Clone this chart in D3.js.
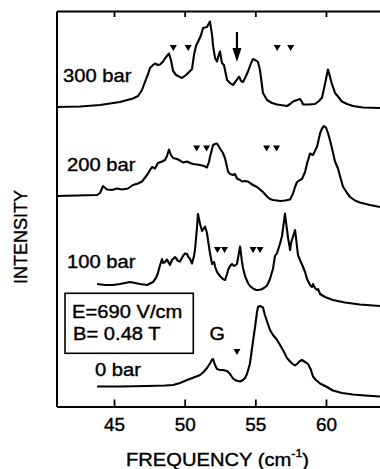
<!DOCTYPE html>
<html>
<head>
<meta charset="utf-8">
<script src="https://cdn.jsdelivr.net/npm/d3@7"></script>
<style>
	body { margin: 0; background: #fff; }
	svg { display: block; }
	text { font-family: "Liberation Sans", Arial, Helvetica, sans-serif; fill: #000; stroke: #000; stroke-width: 0.4px; }
</style>
</head>
<body>
<svg id="chart" width="380" height="469"></svg>
<script>
// spectra: [frequency (cm-1), intensity (arb. units, above own baseline)]
const bar300 = [
	[40.93, 1], [42.6, 1.5], [44.01, 3], [45.42, 6], [46.34, 9.5], [46.7, 12], [46.98, 18], [47.19, 26],
	[47.41, 34], [47.55, 40], [47.76, 43], [47.9, 44.5], [48.11, 43], [48.26, 43.5], [48.47, 46.5],
	[48.68, 51], [48.89, 54.5], [49.03, 48], [49.18, 37], [49.39, 33], [49.81, 30], [50.1, 33],
	[50.38, 37], [50.52, 39], [50.66, 53], [50.8, 62], [50.94, 66], [51.16, 73], [51.3, 80], [51.58, 81],
	[51.79, 86.5], [51.94, 73], [52.01, 62], [52.15, 50], [52.29, 46.5], [52.43, 54], [52.5, 56.5],
	[52.64, 45], [52.78, 43], [53.0, 28], [53.21, 25], [53.42, 23], [53.63, 27], [53.85, 31.5],
	[53.99, 27], [54.13, 26], [54.34, 32], [54.48, 36.5], [54.7, 45], [54.84, 49], [55.05, 47.5],
	[55.19, 46], [55.33, 38], [55.47, 23], [55.54, 15], [55.83, 8], [56.18, 5], [56.54, 3.5], [57.24, 2],
	[57.46, 4], [57.67, 6.5], [57.95, 8], [58.16, 9], [58.3, 6], [58.38, 3.5], [58.8, 3.5], [59.22, 4],
	[59.51, 7], [59.72, 10.5], [59.93, 24], [60.14, 38.5], [60.29, 31], [60.42, 24], [60.57, 18],
	[60.64, 15], [60.85, 11.5], [61.13, 6.5], [61.49, 4], [61.91, 2], [62.62, 0.5], [63.82, 0]
];
const bar200 = [
	[40.93, 11], [42.38, 11.5], [43.8, 12], [44.01, 14], [44.22, 21], [44.5, 17.5], [44.86, 17],
	[45.21, 18.5], [45.57, 17.5], [45.99, 18.5], [46.34, 22], [46.7, 23.5], [46.98, 25.5], [47.34, 32],
	[47.55, 37], [47.69, 40], [47.9, 38.5], [48.11, 44], [48.4, 45.5], [48.61, 47], [48.75, 51],
	[48.89, 57.5], [49.03, 52], [49.18, 49], [49.46, 48], [49.67, 46.5], [49.88, 44.5], [50.17, 45.5],
	[50.38, 44], [50.59, 43], [50.87, 42.5], [51.09, 42], [51.37, 41], [51.58, 39.5], [51.72, 45],
	[51.79, 50], [52.01, 62], [52.15, 63], [52.29, 63.5], [52.5, 58.5], [52.71, 54], [52.86, 48.5],
	[53.07, 35.5], [53.21, 33], [53.42, 32], [53.56, 33], [53.7, 28.5], [53.92, 27], [54.06, 25.5],
	[54.27, 26], [54.48, 25.5], [54.62, 24], [54.84, 22], [55.12, 20], [55.33, 17.5], [55.54, 15],
	[55.83, 10.5], [56.04, 8], [56.25, 7], [56.54, 6.5], [56.75, 6], [57.1, 6.5], [57.46, 7.5],
	[57.67, 13.5], [57.81, 20], [57.95, 25], [58.16, 27], [58.3, 28], [58.52, 35], [58.66, 43.5],
	[58.87, 53.5], [59.08, 52], [59.22, 56], [59.37, 60.5], [59.58, 73.5], [59.72, 78.5], [59.86, 81],
	[60.0, 79.5], [60.14, 74], [60.28, 67], [60.42, 59], [60.64, 45.5], [60.85, 38.5], [60.99, 31],
	[61.2, 20.5], [61.49, 14], [61.7, 10], [62.05, 6.5], [62.4, 4.5], [63.11, 2], [63.82, 0]
];
const bar100 = [
	[43.8, 22], [44.36, 21], [44.93, 21], [45.42, 22], [46.13, 24], [46.84, 22], [47.34, 21], [47.76, 24],
	[47.97, 28], [48.11, 33], [48.26, 41], [48.4, 47], [48.47, 43], [48.61, 44], [48.75, 46.5],
	[48.96, 41], [49.1, 46], [49.32, 49], [49.53, 45], [49.67, 44.5], [49.88, 50], [50.02, 52.5],
	[50.17, 52], [50.24, 49.5], [50.38, 47], [50.52, 42.5], [50.66, 50], [50.73, 56], [50.87, 78],
	[50.94, 92], [51.09, 82], [51.23, 75], [51.37, 78], [51.44, 79.5], [51.58, 73], [51.65, 66],
	[51.79, 53], [51.94, 42], [52.08, 44], [52.15, 39.5], [52.29, 34], [52.5, 30], [52.71, 27],
	[52.86, 26], [53.0, 32], [53.07, 36], [53.21, 40], [53.35, 42], [53.49, 40], [53.56, 40.5],
	[53.7, 42], [53.92, 59.5], [54.06, 44], [54.13, 38], [54.27, 30], [54.48, 23], [54.62, 20],
	[54.84, 17.5], [55.05, 16], [55.19, 16], [55.4, 16.5], [55.61, 18], [55.83, 20.5], [56.04, 27],
	[56.18, 34], [56.25, 37], [56.39, 50], [56.54, 53], [56.75, 62.5], [56.89, 70], [57.1, 92.5],
	[57.17, 84], [57.31, 69], [57.46, 56], [57.53, 63], [57.67, 69.5], [57.81, 76], [57.88, 68],
	[58.02, 51], [58.16, 46], [58.38, 39], [58.52, 34], [58.66, 27], [58.87, 21], [59.01, 19],
	[59.08, 22], [59.22, 18], [59.37, 16], [59.44, 17], [59.58, 12], [59.93, 9], [60.49, 6],
	[61.34, 3.5], [62.4, 1.5], [63.82, 0]
];
const bar0 = [
	[43.8, 10.5], [45.42, 10.5], [47.34, 11], [48.61, 11.5], [49.18, 12], [49.67, 14], [50.17, 17],
	[50.73, 20], [51.09, 22], [51.37, 25.5], [51.58, 29], [51.79, 33.5], [51.94, 37.5], [52.01, 38],
	[52.15, 32], [52.29, 28], [52.5, 27], [52.71, 27], [53.0, 26], [53.21, 23], [53.42, 18.5],
	[53.63, 16.5], [53.92, 15.5], [54.13, 17], [54.27, 19], [54.41, 23], [54.62, 33.5], [54.77, 49],
	[54.98, 70], [55.12, 85], [55.19, 90], [55.33, 91], [55.54, 89.5], [55.68, 82], [55.83, 75.5],
	[56.04, 67], [56.25, 62], [56.54, 57], [56.75, 52], [57.03, 45], [57.24, 39], [57.46, 35.5],
	[57.6, 33.5], [57.81, 31.5], [57.95, 33], [58.16, 36], [58.3, 37], [58.52, 35], [58.73, 33],
	[58.94, 27], [59.08, 20.5], [59.29, 17], [59.58, 13.5], [60.07, 10], [60.49, 6.5], [61.13, 4],
	[61.91, 2.5], [62.76, 1.5], [63.82, 0.5]
];

const traceNames = ["300 bar", "200 bar", "100 bar", "0 bar"];
const traceOffsets = [298.5, 199.5, 100.5, 9.5];
const freqTicks = [45, 50, 55, 60];

// little triangles above the traces
const markerFreqs = [[49.2, 50.25, 56.55, 57.5], [50.85, 51.55, 55.8, 56.5], [52.32, 52.82, 54.84, 55.33], [53.7]];
const markerLevels = [60, 58.5, 56, 45];
const arrowFreq = 53.7;
const arrowLevels = [76, 46];

const fieldText = ["E=690 V/cm", "B= 0.48 T"];

const svg = d3.select("#chart");
const plotLeft = 56.5, plotTop = 11, plotBottom = 406.5;
const fontH = 18;

const x = d3.scaleLinear().domain([40.93, 64.0]).range([plotLeft, 382.5]);
const y = d3.scaleLinear().domain([0, 395.5]).range([plotBottom, plotTop]);

// frame
svg.append("g")
	.attr("transform", "translate(0," + plotBottom + ")")
	.call(d3.axisBottom(x).tickValues(freqTicks).tickSizeInner(-7).tickSizeOuter(0).tickPadding(11.5))
	.call(g => g.select(".domain").attr("stroke-width", 2))
	.call(g => g.selectAll(".tick line").attr("stroke-width", 1.8))
	.call(g => g.selectAll(".tick text").attr("font-size", fontH).attr("font-family", null)
		.attr("fill", null).attr("transform", "scale(1.05,1)"));
svg.append("g")
	.attr("transform", "translate(0," + plotTop + ")")
	.call(d3.axisTop(x).tickValues(freqTicks).tickSizeInner(-6).tickSizeOuter(0).tickFormat(""))
	.call(g => g.select(".domain").attr("stroke-width", 2))
	.call(g => g.selectAll(".tick line").attr("stroke-width", 1.8));
svg.append("g")
	.attr("transform", "translate(" + plotLeft + ",0)")
	.call(d3.axisLeft(y).tickValues([]).tickSizeOuter(0))
	.call(g => g.select(".domain").attr("stroke-width", 2));

// traces
const traces = [bar300, bar200, bar100, bar0];
const line = d3.line();
traces.forEach(function (data, i) {
	line.x(d => x(d[0])).y(d => y(d[1] + traceOffsets[i]));
	svg.append("path")
		.attr("d", line(data))
		.attr("fill", "none")
		.attr("stroke", "#000")
		.attr("stroke-width", 2.1)
		.attr("stroke-linejoin", "round");
});

// triangles
const tri = "M-3.5,-3 L3.5,-3 L0,3 Z";
markerFreqs.forEach(function (fs, i) {
	fs.forEach(function (f) {
		svg.append("path")
			.attr("d", tri)
			.attr("transform", "translate(" + x(f) + "," + y(markerLevels[i] + traceOffsets[i]) + ")");
	});
});

// arrow on 300 bar
let ax = x(arrowFreq), ay0 = y(arrowLevels[0] + traceOffsets[0]), ay1 = y(arrowLevels[1] + traceOffsets[0]);
svg.append("line").attr("x1", ax).attr("x2", ax).attr("y1", ay0).attr("y2", ay1 - 8)
	.attr("stroke", "#000").attr("stroke-width", 2.2);
svg.append("path")
	.attr("d", "M" + (ax - 4.5) + "," + (ay1 - 14) + " L" + (ax + 4.5) + "," + (ay1 - 14) + " L" + ax + "," + ay1 + " Z");

// trace labels
const labelPos = [[63, 82.3], [67, 170.7], [67, 268.3], [95, 375.7]];
traceNames.forEach(function (t, i) {
	svg.append("text").text(t)
		.attr("transform", "translate(" + labelPos[i][0] + "," + labelPos[i][1] + ") scale(1.12,1)")
		.attr("font-size", fontH);
});

// G label
svg.append("text").text("G")
	.attr("transform", "translate(" + x(52.3) + "," + y(57.5 + traceOffsets[3]) + ") scale(1.1,1)")
	.attr("font-size", fontH)
	.style("text-anchor", "middle");

// field box
svg.append("rect")
	.attr("x", 65).attr("y", 293.3).attr("width", 128.3).attr("height", 60)
	.attr("fill", "#fff").attr("stroke", "#000").attr("stroke-width", 1.6);
fieldText.forEach(function (t, i) {
	svg.append("text").text(t)
		.attr("transform", "translate(" + (72 + i) + "," + (317.7 + i * 22.3) + ") scale(1.12,1)")
		.attr("font-size", fontH);
});

// axis titles
let xt = svg.append("text")
	.attr("transform", "translate(217.5,465.5) scale(1.12,1)")
	.attr("font-size", fontH)
	.style("text-anchor", "middle");
xt.append("tspan").text("FREQUENCY (cm");
xt.append("tspan").text("-1").attr("font-size", 11).attr("dy", -8.5);
xt.append("tspan").text(")").attr("dy", 8.5);

svg.append("text").text("INTENSITY")
	.attr("transform", "translate(27,237) rotate(-90)")
	.attr("font-size", fontH)
	.style("text-anchor", "middle");
</script>
</body>
</html>
